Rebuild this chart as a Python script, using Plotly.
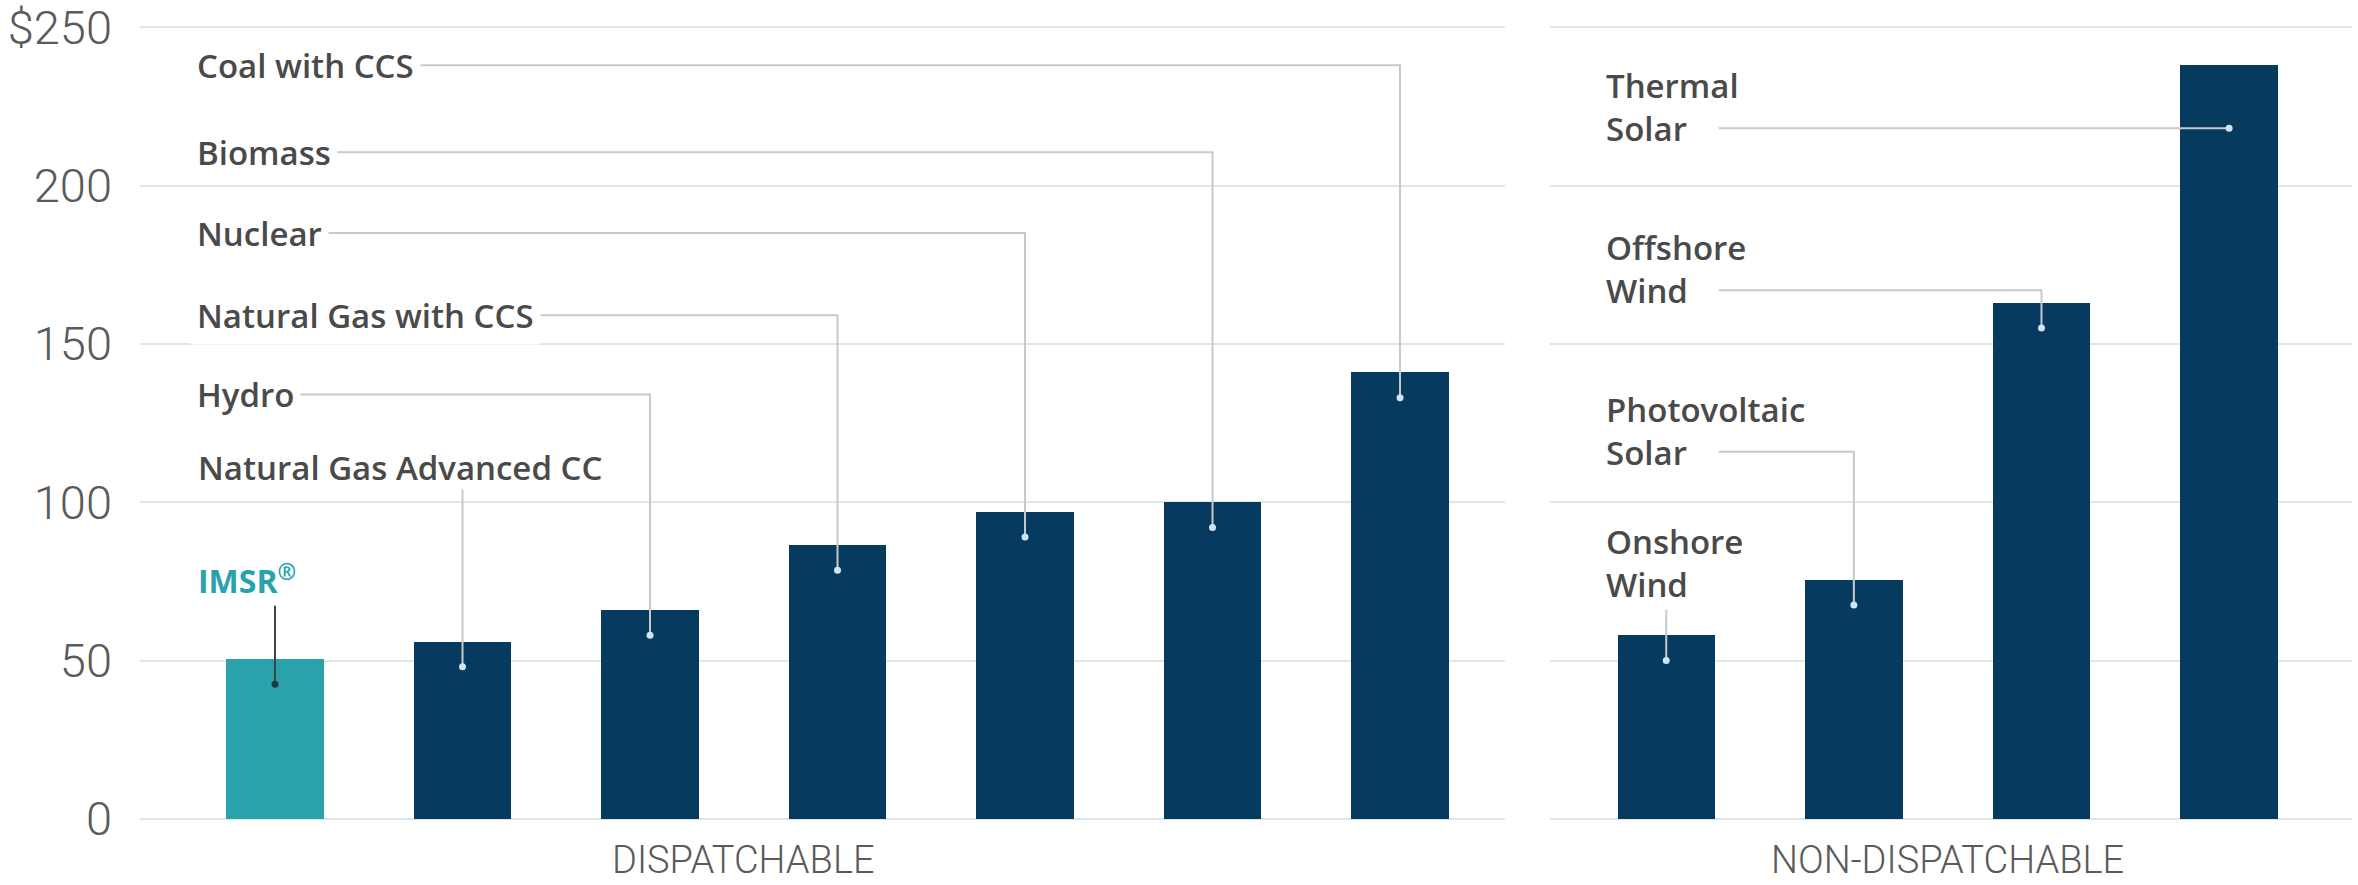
import plotly.graph_objects as go

# ---------------- data ----------------
disp_names = ["IMSR®", "Natural Gas Advanced CC", "Hydro", "Natural Gas with CCS",
              "Nuclear", "Biomass", "Coal with CCS"]
disp_values = [50.5, 56, 66, 86.5, 97, 100, 141]

nondisp_names = ["Onshore Wind", "Photovoltaic Solar", "Offshore Wind", "Thermal Solar"]
nondisp_values = [58, 75.5, 163, 238]

y_tick_vals = [0, 50, 100, 150, 200, 250]
y_tick_text = ["0", "50", "100", "150", "200", "$250"]
group_titles = ["DISPATCHABLE", "NON-DISPATCHABLE"]

# ---------------- label layout (positions, not data) ----------------
disp_label_text = ["IMSR<sup>®</sup>", "Natural Gas Advanced CC", "Hydro",
                   "Natural Gas with CCS", "Nuclear", "Biomass", "Coal with CCS"]
disp_label_y = [75.7, 111, 134, 159, 185, 210.5, 238]
disp_leader_x0 = [0, 1, -0.42, -0.42, -0.42, -0.42, -0.42]
disp_leader_y = [67.3, 104, 134, 159, 185, 210.5, 238]

nondisp_label_text = ["Onshore<br>Wind", "Photovoltaic<br>Solar", "Offshore<br>Wind", "Thermal<br>Solar"]
nondisp_label_y = [80.8, 122.6, 173.7, 224.8]
nondisp_leader_x0 = [0, 0.28, 0.28, 0.28]
nondisp_leader_y = [66, 115.9, 166.9, 218.1]

NAVY = "#063a5e"
TEAL = "#2aa2ac"
GRID = "#dde7ea"
LEADER = "#c6cacd"
LABEL = "#4a4a4a"
TICK = "#5a5a5a"
DOT_OFF = 8
PAD = 6
PX_PER_X = 187.5

fig = go.Figure()

# bars
fig.add_trace(go.Bar(
    x=list(range(len(disp_values))), y=disp_values,
    marker=dict(color=[TEAL] + [NAVY] * (len(disp_values) - 1), line=dict(width=0)),
    width=0.52, xaxis="x", yaxis="y", hovertext=disp_names, showlegend=False))
fig.add_trace(go.Bar(
    x=list(range(len(nondisp_values))), y=nondisp_values,
    marker=dict(color=NAVY, line=dict(width=0)),
    width=0.52, xaxis="x2", yaxis="y2", hovertext=nondisp_names, showlegend=False))


def add_leaders(values, x0s, lys, xa, ya, first_dark=False):
    dots_x, dots_y, dot_cols = [], [], []
    for i, (v, x0, ly) in enumerate(zip(values, x0s, lys)):
        dy = min(v - DOT_OFF, ly)
        col = "#3d4448" if (first_dark and i == 0) else LEADER
        fig.add_trace(go.Scatter(
            x=[x0, i, i], y=[ly, ly, dy], mode="lines",
            line=dict(color=col, width=2), xaxis=xa, yaxis=ya,
            showlegend=False, hoverinfo="skip"))
        dots_x.append(i)
        dots_y.append(dy)
        dot_cols.append("#1f3a44" if (first_dark and i == 0) else "#cfe5f6")
    fig.add_trace(go.Scatter(
        x=dots_x, y=dots_y, mode="markers",
        marker=dict(color=dot_cols, size=7), xaxis=xa, yaxis=ya,
        showlegend=False, hoverinfo="skip"))


add_leaders(disp_values, disp_leader_x0, disp_leader_y, "x", "y", first_dark=True)
add_leaders(nondisp_values, nondisp_leader_x0, nondisp_leader_y, "x2", "y2")

annotations = []
for i, (t, ly) in enumerate(zip(disp_label_text, disp_label_y)):
    side = disp_leader_x0[i] != i
    if i == 0:
        font = dict(family="Open Sans", size=32, color=TEAL, weight=700)
    else:
        font = dict(family="Open Sans", size=33, color=LABEL, weight=600)
    ann = dict(x=-0.42, y=ly, xref="x", yref="y", text=t, showarrow=False,
               xanchor="left", yanchor="middle", font=font)
    if side:
        ann.update(x=-0.42 - PAD / PX_PER_X, bgcolor="white", borderpad=PAD)
    annotations.append(ann)

for i, (t, ly) in enumerate(zip(nondisp_label_text, nondisp_label_y)):
    annotations.append(dict(
        x=-0.33, y=ly, xref="x2", yref="y2", text=t, showarrow=False,
        xanchor="left", yanchor="middle", align="left",
        font=dict(family="Open Sans", size=33, color=LABEL, weight=600)))

title_font = dict(family="Roboto", size=38, color=TICK, weight=300)
annotations.append(dict(x=2.5, xref="x", y=-0.048, yref="paper", text=group_titles[0],
                        showarrow=False, xanchor="center", yanchor="middle", font=title_font))
annotations.append(dict(x=1.5, xref="x2", y=-0.048, yref="paper", text=group_titles[1],
                        showarrow=False, xanchor="center", yanchor="middle", font=title_font))

yax = dict(range=[-1, 251], tickvals=y_tick_vals, showgrid=True, gridcolor=GRID, gridwidth=2,
           zeroline=False, showline=False, fixedrange=True, automargin=False)

fig.update_layout(
    width=2358, height=885,
    margin=dict(l=140, r=6, t=24, b=63, autoexpand=False),
    paper_bgcolor="white", plot_bgcolor="white",
    bargap=0,
    xaxis=dict(domain=[0, 0.6171], range=[-0.72, 6.56], showgrid=False, zeroline=False,
               showticklabels=False, showline=False, automargin=False),
    xaxis2=dict(domain=[0.6374, 1], range=[-0.62, 3.655], showgrid=False, zeroline=False,
                showticklabels=False, showline=False, anchor="y2", automargin=False),
    yaxis=dict(**yax, ticktext=y_tick_text, ticklabelstandoff=27, ticklabeloverflow="allow",
               tickfont=dict(family="Roboto", size=47, color=TICK, weight=300)),
    yaxis2=dict(**yax, anchor="x2", showticklabels=False, matches="y"),
    annotations=annotations,
    font=dict(family="Open Sans"),
)

fig.write_html("out.html")
